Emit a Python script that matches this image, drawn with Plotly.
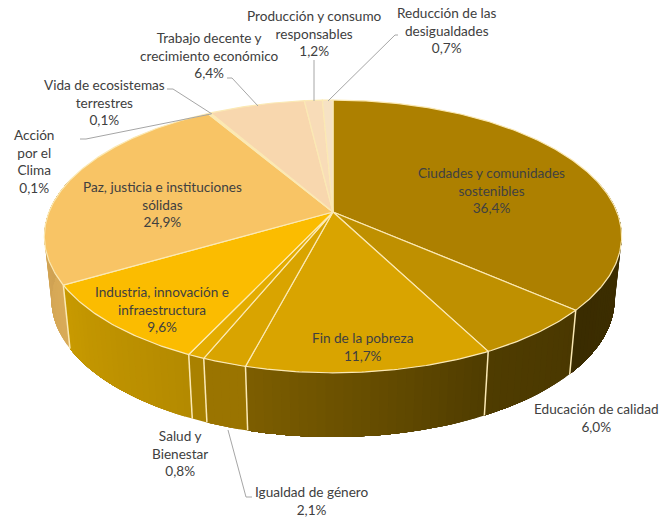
import numpy as np
import plotly.graph_objects as go

categories = ["Ciudades y comunidades sostenibles", "Educación de calidad", "Fin de la pobreza",
              "Igualdad de género", "Salud y Bienestar", "Industria, innovación e infraestructura",
              "Paz, justicia e instituciones sólidas", "Acción por el Clima",
              "Vida de ecosistemas terrestres", "Trabajo decente y crecimiento económico",
              "Producción y consumo responsables", "Reducción de las desigualdades"]
values = [36.4, 6.0, 11.7, 2.1, 0.8, 9.6, 24.9, 0.1, 0.1, 6.4, 1.2, 0.7]
label_names = ["Ciudades y comunidades<br>sostenibles", "Educación de calidad", "Fin de la pobreza",
               "Igualdad de género", "Salud y<br>Bienestar", "Industria, innovación e<br>infraestructura",
               "Paz, justicia e instituciones<br>sólidas", "Acción<br>por el<br>Clima",
               "Vida de ecosistemas<br>terrestres", "Trabajo decente y<br>crecimiento económico",
               "Producción y consumo<br>responsables", "Reducción de las<br>desigualdades"]
top_colors = ["#ad8000", "#bf9000", "#d9a400", "#d9a400", "#e3ac00", "#fbbc00",
              "#f8c465", "#f8d7ae", "#f8d7ae", "#f8d7ae", "#f8dcb8", "#f6e2c4"]
wall_stops = [["#3f2f00", "#3a2c00"], ["#4a3800", "#4f3c00"], ["#4f3c00", "#7d5e00"],
              ["#9a7400", "#9a7400"], ["#a98100", "#a98100"], ["#b48a00", "#c89a00"],
              ["#d9ab58", "#c99c50"], ["#c99c50", "#c99c50"], ["#c99c50", "#c99c50"],
              ["#c99c50", "#c99c50"], ["#c99c50", "#c99c50"], ["#c99c50", "#c99c50"]]
label_x = [491, 596, 362, 311, 180, 162, 162, 34, 104, 209, 314, 447]
label_y = [190, 418, 347, 501, 453, 309, 204, 161, 102, 55, 33, 30]
leaders = [[(227, 78), (232, 78), (258, 106)], [(314, 60), (314, 101)],
           [(398, 35), (395, 35), (328, 101)], [(167, 89), (173, 89), (212, 114)],
           [(80, 139), (86, 139), (211, 114)], [(228, 430), (246, 497), (252, 497)]]

RIM = "#fbe9b4"
CX, CY, R, H, K = 333, 212, 284, 132, 0.179
CY2, R2, H2 = 275, 277, 133


def top(t):
    X, Y = np.sin(t), np.cos(t)
    d = 1 + K * Y
    return CX + R * X / d, CY - H * Y / d


def bottom(t):
    X, Y = np.sin(t), np.cos(t)
    d = 1 + K * Y
    return CX + R2 * X / d, CY2 - H2 * Y / d


def mix(a, b, f):
    ca = [int(a[i:i + 2], 16) for i in (1, 3, 5)]
    cb = [int(b[i:i + 2], 16) for i in (1, 3, 5)]
    return "rgb(%d,%d,%d)" % tuple(round(x + (y - x) * f) for x, y in zip(ca, cb))


edges = np.radians(np.concatenate([[0], np.cumsum(values)]) * 3.6)
fig = go.Figure()

# walls: each band runs on to the far end of its slice, the next band paints over it
for i in range(len(values)):
    a, b = edges[i], edges[i + 1]
    lo, hi = max(a, np.radians(75)), min(b, np.radians(285))
    if hi <= lo:
        continue
    n = max(1, int((hi - lo) / np.radians(1.5)))
    ts = np.linspace(lo, hi, n + 1)
    for j in range(n):
        t = np.r_[ts[j:], ts[-1]] if j == n - 1 else ts[j:]
        xt, yt = top(t)
        xb, yb = bottom(t[::-1])
        c = mix(wall_stops[i][0], wall_stops[i][1], (j + .5) / n)
        fig.add_trace(go.Scatter(x=np.r_[xt, xb], y=np.r_[yt, yb], fill="toself", fillcolor=c,
                                 mode="none", hoverinfo="skip", showlegend=False))

# wall separators
for e in edges[1:7]:
    xt, yt = top(e)
    xb, yb = bottom(e)
    fig.add_trace(go.Scatter(x=[xt, xb], y=[yt, yb], mode="lines", line=dict(color=RIM, width=1.5),
                             hoverinfo="skip", showlegend=False))

# top face
for i, name in enumerate(categories):
    t = np.linspace(edges[i], edges[i + 1], max(3, int(values[i] * 6)))
    xs, ys = top(t)
    fig.add_trace(go.Scatter(x=np.r_[CX, xs, CX], y=np.r_[CY, ys, CY], fill="toself",
                             fillcolor=top_colors[i], mode="lines", line=dict(color=RIM, width=1.2),
                             name=name, hoverinfo="name", showlegend=False))

# leader lines
for pts in leaders:
    fig.add_trace(go.Scatter(x=[p[0] for p in pts], y=[p[1] for p in pts], mode="lines",
                             line=dict(color="#a6a6a6", width=1), hoverinfo="skip", showlegend=False))

for name, v, x, y in zip(label_names, values, label_x, label_y):
    txt = f"{name}<br>{v:.1f}%".replace(".", ",")
    fig.add_annotation(x=x, y=y, text=txt, showarrow=False, xanchor="center", yanchor="middle",
                       align="center", font=dict(family="Lato, Carlito, sans-serif", size=13.6, color="#404040"))

fig.update_layout(width=659, height=519, margin=dict(l=0, r=0, t=0, b=0),
                  paper_bgcolor="white", plot_bgcolor="white", showlegend=False,
                  xaxis=dict(range=[0, 659], visible=False, fixedrange=True),
                  yaxis=dict(range=[519, 0], visible=False, fixedrange=True))
fig.write_html("out.html", post_script="document.body.style.margin='0';", config={"displayModeBar": False})
